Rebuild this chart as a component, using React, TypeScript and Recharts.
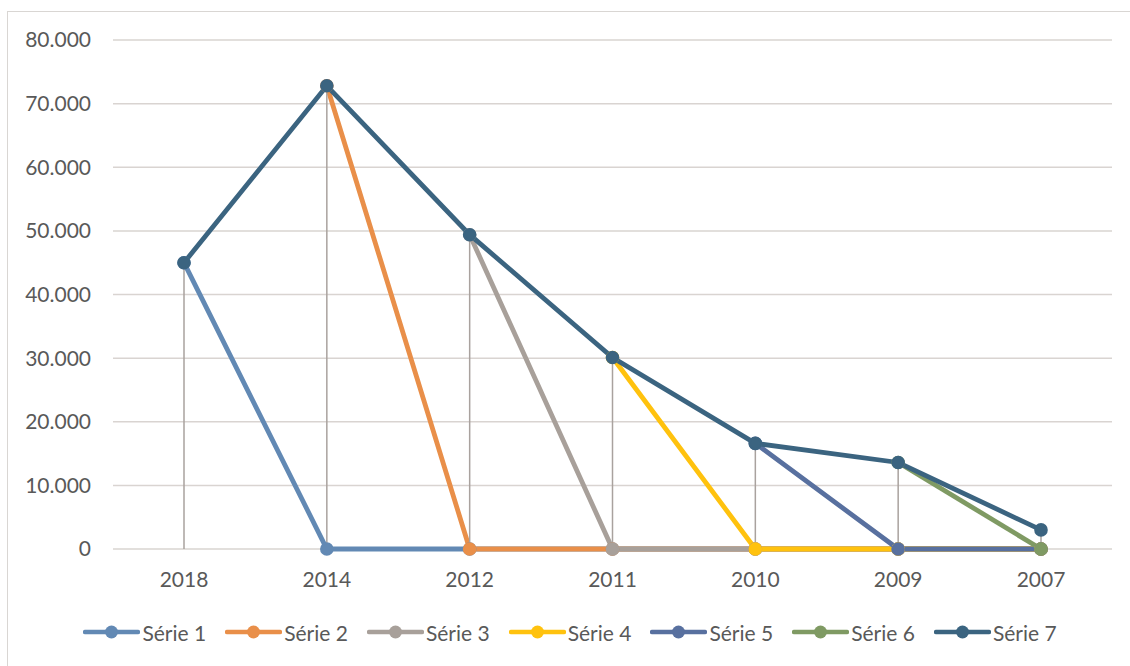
import { LineChart, Line, XAxis, YAxis, CartesianGrid, Legend, ReferenceLine } from 'recharts';

// categories along the x axis (newest first)
const years = ['2018', '2014', '2012', '2011', '2010', '2009', '2007'];

// each step series peaks at its year then falls to zero
const serie1 = [45000, 0, 0, 0, 0, 0, 0];
const serie2 = [null, 72800, 0, 0, 0, 0, 0];
const serie3 = [null, null, 49400, 0, 0, 0, 0];
const serie4 = [null, null, null, 30100, 0, 0, 0];
const serie5 = [null, null, null, null, 16600, 0, 0];
const serie6 = [null, null, null, null, null, 13600, 0];
const serie7 = [45000, 72800, 49400, 30100, 16600, 13600, 3000];

const yTicks = [0, 10000, 20000, 30000, 40000, 50000, 60000, 70000, 80000];

const seriesNames = ['Série 1', 'Série 2', 'Série 3', 'Série 4', 'Série 5', 'Série 6', 'Série 7'];
const seriesValues = [serie1, serie2, serie3, serie4, serie5, serie6, serie7];
const seriesColors = ['#6289B4', '#E98F49', '#A8A09A', '#FFC20E', '#58709F', '#7F9A63', '#3B6480'];

const data = years.map((year, i) => {
  const row: Record<string, string | number | null> = { year };
  seriesValues.forEach((vals, s) => {
    row[`s${s + 1}`] = vals[i];
  });
  // top of the drop line at this year
  row.top = Math.max(...seriesValues.map((vals) => vals[i] ?? 0));
  return row;
});

const FONT = 'Lato, "Open Sans", sans-serif';
const TEXT = '#595959';
const GRID = '#D9D4D1';

const formatThousands = (v: number) => String(v).replace(/\B(?=(\d{3})+(?!\d))/g, '.');

const LegendIcon = ({ color }: { color: string }) => (
  <svg width={57} height={16} style={{ display: 'block' }}>
    <line x1={2} y1={8} x2={55} y2={8} stroke={color} strokeWidth={4.5} strokeLinecap="round" />
    <circle cx={28.5} cy={8} r={6.5} fill={color} />
  </svg>
);

const renderLegend = () => (
  <div
    style={{
      display: 'flex',
      justifyContent: 'center',
      alignItems: 'center',
      height: 40,
      fontFamily: FONT,
      fontSize: 21,
      color: TEXT,
    }}
  >
    {seriesNames.map((name, i) => (
      <div key={name} style={{ display: 'flex', alignItems: 'center', marginRight: i < seriesNames.length - 1 ? 19 : 0 }}>
        <LegendIcon color={seriesColors[i]} />
        <span style={{ marginLeft: 2 }}>{name}</span>
      </div>
    ))}
  </div>
);

export default function App() {
  return (
    <div
      style={{
        position: 'absolute',
        left: 7,
        top: 11,
        width: 1130,
        height: 660,
        border: '1px solid #D9D6D3',
        background: '#fff',
      }}
    >
      <LineChart
        width={1122}
        height={650}
        data={data}
        margin={{ top: 28, right: 18, bottom: 10, left: 0 }}
      >
        <CartesianGrid vertical={false} stroke={GRID} strokeWidth={1.5} />
        <XAxis
          dataKey="year"
          padding={{ left: 71, right: 71 }}
          axisLine={false}
          tickLine={false}
          tickSize={0}
          tickMargin={23}
          height={63}
          tick={{ fill: TEXT, fontSize: 21, fontFamily: FONT }}
        />
        <YAxis
          domain={[0, 80000]}
          ticks={yTicks}
          width={105}
          axisLine={false}
          tickLine={false}
          tickSize={0}
          tickMargin={22}
          tickFormatter={formatThousands}
          tick={{ fill: TEXT, fontSize: 21, fontFamily: FONT }}
        />
        {seriesNames.map((name, i) => (
          <Line
            key={name}
            name={name}
            dataKey={`s${i + 1}`}
            stroke={seriesColors[i]}
            strokeWidth={4.8}
            dot={{ r: 5.8, fill: seriesColors[i], stroke: seriesColors[i], strokeWidth: 2 }}
            activeDot={false}
            isAnimationActive={false}
          />
        ))}
        {data.map((row) => (
          <ReferenceLine
            key={`drop-${row.year}`}
            segment={[
              { x: row.year as string, y: 0 },
              { x: row.year as string, y: row.top as number },
            ]}
            stroke="#A9A29E"
            strokeWidth={1.5}
          />
        ))}
        <Legend
          verticalAlign="bottom"
          content={renderLegend}
          wrapperStyle={{ height: 40, width: 1122, left: 1 }}
        />
      </LineChart>
    </div>
  );
}
